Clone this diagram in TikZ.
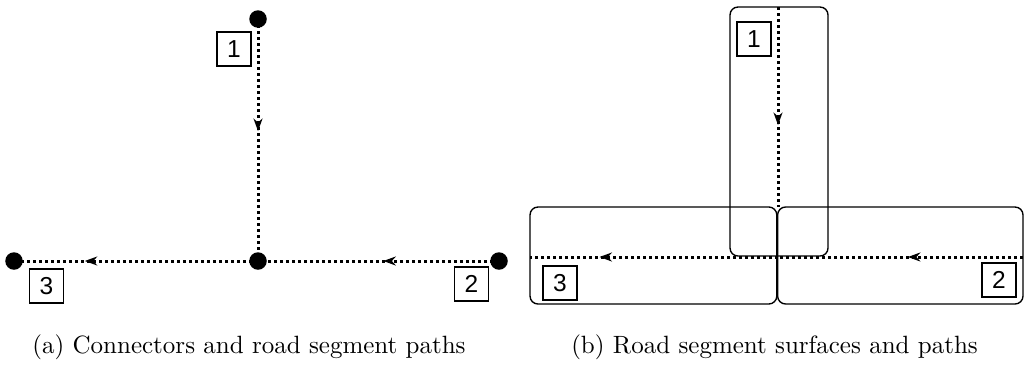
\documentclass[tikz,border=0pt]{standalone}
\usepackage{fontspec}
\newfontfamily\labfont{Liberation Sans}
\usetikzlibrary{arrows.meta,decorations.markings}
\tikzset{
  dotnode/.style={circle, fill=black, inner sep=0pt, minimum size=7pt},
  lbl/.style={draw, line width=0.45pt, minimum width=13.6pt, minimum height=13.6pt, inner sep=0pt, font=\labfont\fontsize{9.8}{10}\selectfont},
  roadpath/.style={line width=1.2pt, dash pattern=on 1.2pt off 1.2pt},
  surf/.style={draw, line width=0.55pt, rounded corners=3.2pt},
  midarrow/.style={postaction={decorate}, decoration={markings, mark=at position #1 with {\arrow{Stealth[length=5pt,width=3.6pt,inset=1.6pt]}}}},
  captxt/.style={anchor=base, inner sep=0pt}
}
\begin{document}
\begin{tikzpicture}[x=0.4pt, y=-0.4pt]
\useasboundingbox (0,0) rectangle (1025,367);
% ---------- (a) ----------
\node[dotnode] (t) at (258,19) {};
\node[dotnode] (c) at (258,261) {};
\node[dotnode] (l) at (14,261) {};
\node[dotnode] (r) at (499,261) {};
\draw[roadpath, midarrow=0.463] (t.center) -- (c.center);
\draw[roadpath, midarrow=0.48] (r.center) -- (c.center);
\draw[roadpath, midarrow=0.71] (c.center) -- (l.center);
\node[lbl] (la1) at (234,49) {1};
\node[lbl] (la3) at (46.5,286) {3};
\node[lbl] (la2) at (471.5,284) {2};
% ---------- (b) ----------
\draw[surf] (730,7) rectangle (828,256);
\draw[surf] (530,207) rectangle (776.8,304);
\draw[surf] (777.6,207) rectangle (1023,304);
\coordinate (vs) at (778,7);
\coordinate (vj) at (778,207);
\coordinate (hr) at (1023,257);
\coordinate (hm) at (778,257);
\coordinate (hl) at (530,257);
\draw[roadpath, midarrow=0.59] (vs) -- (vj);
\draw[roadpath, midarrow=0.47] (hr) -- (hm);
\draw[roadpath, midarrow=0.72] (hm) -- (hl);
\node[lbl] (lb1) at (754,39) {1};
\node[lbl] (lb3) at (560,283) {3};
\node[lbl] (lb2) at (999,280) {2};
% ---------- captions ----------
\node[captxt] (capa) at (249,353) {(a) Connectors and road segment paths};
\node[captxt] (capb) at (774.5,353) {(b) Road segment surfaces and paths};
\end{tikzpicture}
\end{document}
